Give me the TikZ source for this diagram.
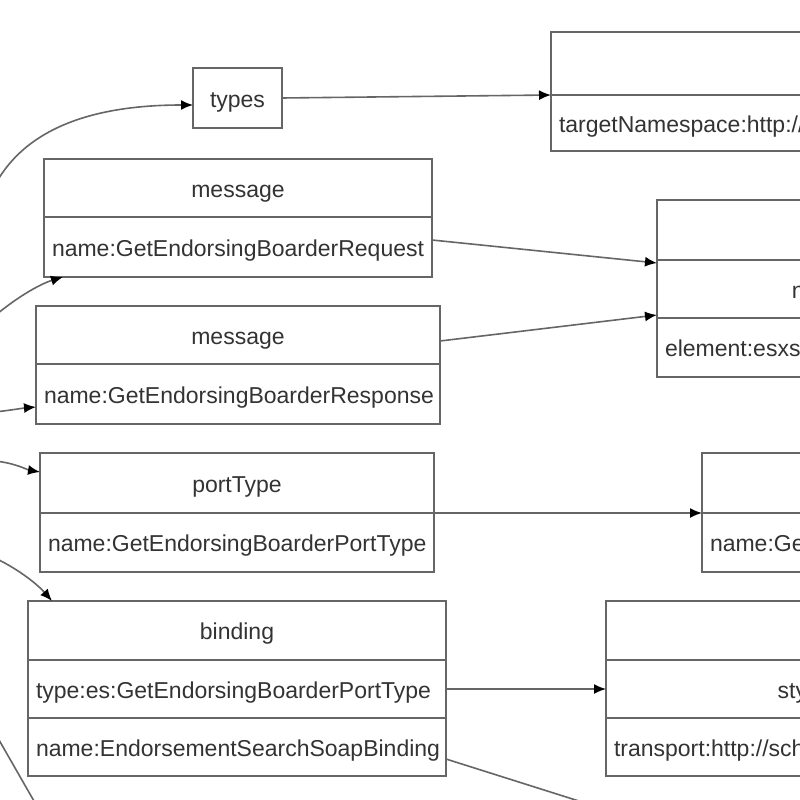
\documentclass[tikz,border=0pt]{standalone}
\usepackage{fontspec}
\setmainfont{Liberation Sans}
\usetikzlibrary{calc,arrows.meta}
\definecolor{boxc}{HTML}{666666}
\definecolor{txtc}{HTML}{333333}
\begin{document}
\begin{tikzpicture}[x=1pt,y=-1pt,
  cell/.style={draw=boxc, line width=1.6pt, inner xsep=8pt, inner ysep=0pt,
    outer sep=0pt, minimum height=#1, anchor=north west, align=left,
    text=txtc, font=\fontsize{23}{26}\selectfont, text height=20pt, text depth=2pt},
  conn/.style={draw=boxc, line width=1.6pt, -{Latex[length=12pt,width=10pt,color=black]}},
  plain/.style={draw=boxc, line width=1.6pt}]
\useasboundingbox (0,0) rectangle (800,800);
\fill[white] (0,0) rectangle (800,800);
\clip (0,0) rectangle (800,800);

% types
\node[cell=60, minimum width=89pt, align=center] (types) at (193,68) {types};

% top-right box (definitions)
\node[cell=63, text width=433pt] (tn1) at (551,32) {};
\node[cell=56, text width=433pt] (tn2) at (551,95) {targetNamespace:http://schemas.xmlsoap.org/wsdl/};

% message 1
\node[cell=58, text width=372pt, align=center] (m1a) at (44,159) {message};
\node[cell=60, text width=372pt] (m1b) at (44,217) {name:GetEndorsingBoarderRequest};

% message 2
\node[cell=58, text width=388pt, align=center] (m2a) at (36,306) {message};
\node[cell=60, text width=388pt] (m2b) at (36,364) {name:GetEndorsingBoarderResponse};

% part box
\node[cell=60, text width=434pt, align=center] (pa) at (657,200) {};
\node[cell=58, text width=434pt, align=center] (pb) at (657,260) {name:parameters};
\node[cell=59, text width=434pt] (pc) at (657,318) {element:esxsd:GetEndorsingBoarder};

% portType
\node[cell=60, text width=378pt, align=center] (pta) at (40,453) {portType};
\node[cell=59, text width=378pt] (ptb) at (40,513) {name:GetEndorsingBoarderPortType};

% portType right
\node[cell=60, text width=282pt, align=center] (pra) at (702,453) {};
\node[cell=59, text width=282pt] (prb) at (702,513) {name:GetEndorsingBoarder};

% binding
\node[cell=59, text width=402pt, align=center] (ba) at (28,601) {binding};
\node[cell=58, text width=402pt] (bb) at (28,660) {type:es:GetEndorsingBoarderPortType};
\node[cell=58, text width=402pt] (bc) at (28,718) {name:EndorsementSearchSoapBinding};

% binding right
\node[cell=59, text width=482pt, align=center] (bra) at (606,601) {};
\node[cell=58, text width=482pt, align=center] (brb) at (606,660) {style:document};
\node[cell=58, text width=482pt] (brc) at (606,718) {transport:http://schemas.xmlsoap.org/soap/http};

% off-canvas coordinates
\coordinate (l1) at (-5,185);
\coordinate (l2) at (-10,320);
\coordinate (l3) at (-5,412);
\coordinate (l4) at (-5,461);
\coordinate (l5) at (-5,558);
\coordinate (l6) at (-5,733);
\coordinate (l6e) at (38,808);
\coordinate (offb) at (620,814);

% connectors
\draw[conn] (types.east) -- (tn1.south west);
\draw[conn] ($(m1b.east)+(0,-7)$) -- ($(pa.south west)+(0,3)$);
\draw[conn] ($(m2a.east)+(0,6)$) -- ($(pb.south west)+(0,-3)$);
\draw[conn] (pta.south east) -- (pra.south west);
\draw[conn] (bb.east) -- (brb.west);
\draw[plain] ($(bc.east)+(0,12)$) -- (offb);

\draw[conn] (l1) .. controls (30,120) and (110,105) .. ($(types.west)+(0,7)$);
\draw[conn] (l2) .. controls (15,298) and (40,284) .. ($(m1b.south west)+(19,0)$);
\draw[conn] (l3) .. controls (12,410) and (24,408) .. ($(m2b.west)+(0,13)$);
\draw[conn] (l4) .. controls (15,463) and (28,470) .. ($(pta.west)+(0,-11)$);
\draw[conn] (l5) .. controls (20,570) and (38,585) .. ($(ba.north west)+(24,0)$);
\draw[plain] (l6) -- (l6e);
\end{tikzpicture}
\end{document}
